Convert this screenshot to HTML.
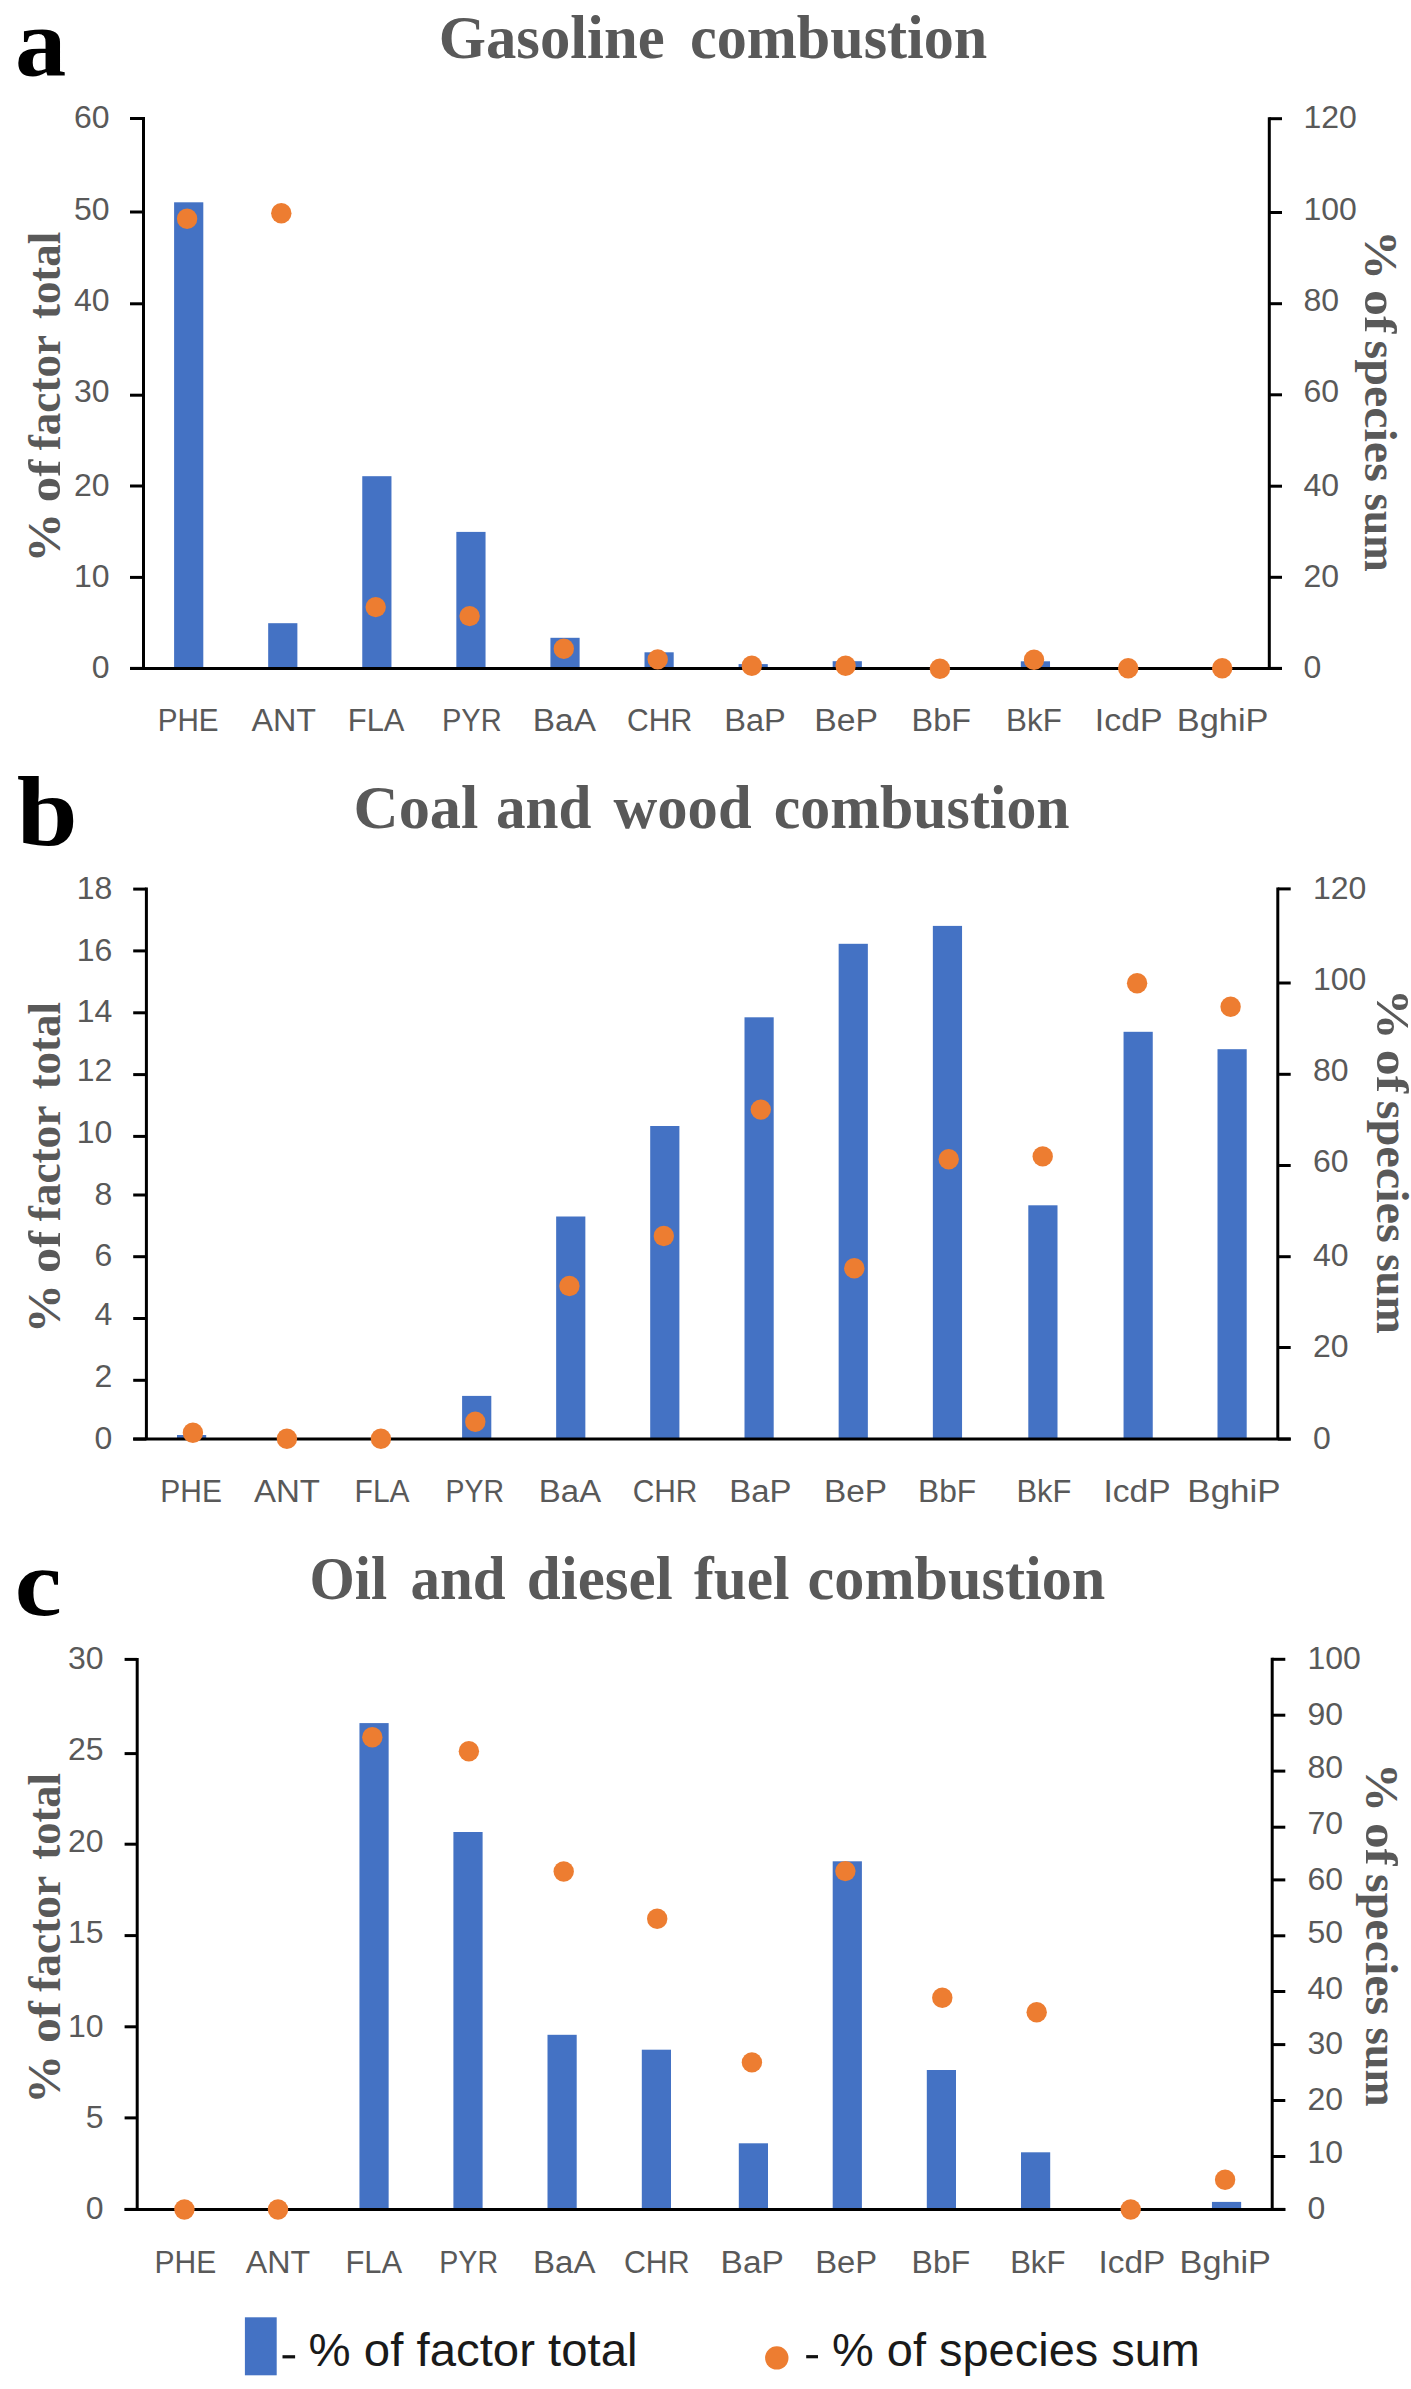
<!DOCTYPE html>
<html><head><meta charset="utf-8"><style>
html,body{margin:0;padding:0;background:#fff;}
svg{display:block;}
.let{font-family:"Liberation Serif",serif;font-weight:bold;font-size:103px;fill:#000;}
.ttl{font-family:"Liberation Serif",serif;font-weight:bold;font-size:62px;fill:#595959;}
.axt{font-family:"Liberation Serif",serif;font-weight:bold;font-size:46px;fill:#595959;}
.tk{font-family:"Liberation Sans",sans-serif;font-size:32px;fill:#595959;}
.cat{font-family:"Liberation Sans",sans-serif;font-size:31px;fill:#595959;}
.lg{font-family:"Liberation Sans",sans-serif;font-size:46px;fill:#1a1a1a;}
.ax{stroke:#000;stroke-width:3;}
</style></head><body>
<svg width="1411" height="2389" viewBox="0 0 1411 2389">
<text transform="translate(14.9,74.86) scale(0.996,0.936)" class="let">a</text>
<text x="438.8" y="57.5" class="ttl" textLength="225.8" lengthAdjust="spacingAndGlyphs">Gasoline</text>
<text x="690" y="57.5" class="ttl" textLength="297.2" lengthAdjust="spacingAndGlyphs">combustion</text>
<rect x="174.1" y="202.3" width="29.2" height="466.1" fill="#4472C4"/>
<rect x="268.18" y="623.2" width="29.2" height="45.2" fill="#4472C4"/>
<rect x="362.26" y="476.2" width="29.2" height="192.2" fill="#4472C4"/>
<rect x="456.34" y="531.9" width="29.2" height="136.5" fill="#4472C4"/>
<rect x="550.42" y="637.8" width="29.2" height="30.6" fill="#4472C4"/>
<rect x="644.5" y="652.3" width="29.2" height="16.1" fill="#4472C4"/>
<rect x="738.58" y="664.1" width="29.2" height="4.3" fill="#4472C4"/>
<rect x="832.66" y="661.2" width="29.2" height="7.2" fill="#4472C4"/>
<rect x="1020.82" y="661.3" width="29.2" height="7.1" fill="#4472C4"/>
<line x1="143.5" y1="117" x2="143.5" y2="668.4" class="ax"/>
<line x1="1269.3" y1="117.2" x2="1269.3" y2="668.4" class="ax"/>
<line x1="130" y1="668.4" x2="1282" y2="668.4" class="ax"/>
<line x1="130" y1="668.4" x2="143.5" y2="668.4" class="ax"/>
<text x="109.5" y="678.2" class="tk" text-anchor="end">0</text>
<line x1="130" y1="577.4" x2="143.5" y2="577.4" class="ax"/>
<text x="109.5" y="587" class="tk" text-anchor="end">10</text>
<line x1="130" y1="486" x2="143.5" y2="486" class="ax"/>
<text x="109.5" y="496" class="tk" text-anchor="end">20</text>
<line x1="130" y1="395.2" x2="143.5" y2="395.2" class="ax"/>
<text x="109.5" y="401.9" class="tk" text-anchor="end">30</text>
<line x1="130" y1="303.8" x2="143.5" y2="303.8" class="ax"/>
<text x="109.5" y="311" class="tk" text-anchor="end">40</text>
<line x1="130" y1="212" x2="143.5" y2="212" class="ax"/>
<text x="109.5" y="219.5" class="tk" text-anchor="end">50</text>
<line x1="130" y1="118.5" x2="143.5" y2="118.5" class="ax"/>
<text x="109.5" y="128" class="tk" text-anchor="end">60</text>
<line x1="1269.3" y1="668.4" x2="1282" y2="668.4" class="ax"/>
<text x="1303.5" y="678" class="tk">0</text>
<line x1="1269.3" y1="577.3" x2="1282" y2="577.3" class="ax"/>
<text x="1303.5" y="587" class="tk">20</text>
<line x1="1269.3" y1="486.2" x2="1282" y2="486.2" class="ax"/>
<text x="1303.5" y="495.85" class="tk">40</text>
<line x1="1269.3" y1="394.8" x2="1282" y2="394.8" class="ax"/>
<text x="1303.5" y="401.8" class="tk">60</text>
<line x1="1269.3" y1="303.7" x2="1282" y2="303.7" class="ax"/>
<text x="1303.5" y="310.5" class="tk">80</text>
<line x1="1269.3" y1="212.5" x2="1282" y2="212.5" class="ax"/>
<text x="1303.5" y="219.9" class="tk">100</text>
<line x1="1269.3" y1="118.7" x2="1282" y2="118.7" class="ax"/>
<text x="1303.5" y="128.25" class="tk">120</text>
<circle cx="187.1" cy="218.8" r="10.2" fill="#ED7D31"/>
<circle cx="281.3" cy="213.3" r="10.2" fill="#ED7D31"/>
<circle cx="375.7" cy="607.1" r="10.2" fill="#ED7D31"/>
<circle cx="469.6" cy="616.1" r="10.2" fill="#ED7D31"/>
<circle cx="563.8" cy="648.7" r="10.2" fill="#ED7D31"/>
<circle cx="657.7" cy="659.4" r="10.2" fill="#ED7D31"/>
<circle cx="751.8" cy="665.7" r="10.2" fill="#ED7D31"/>
<circle cx="845.6" cy="665.7" r="10.2" fill="#ED7D31"/>
<circle cx="939.9" cy="668.7" r="10.2" fill="#ED7D31"/>
<circle cx="1034" cy="659.8" r="10.2" fill="#ED7D31"/>
<circle cx="1128.2" cy="668.3" r="10.2" fill="#ED7D31"/>
<circle cx="1222.2" cy="668.3" r="10.2" fill="#ED7D31"/>
<text x="157.72" y="731.3" class="cat" textLength="60.88" lengthAdjust="spacingAndGlyphs">PHE</text>
<text x="251.47" y="731.3" class="cat" textLength="64.64" lengthAdjust="spacingAndGlyphs">ANT</text>
<text x="347.74" y="731.3" class="cat" textLength="56.75" lengthAdjust="spacingAndGlyphs">FLA</text>
<text x="441.95" y="731.3" class="cat" textLength="59.75" lengthAdjust="spacingAndGlyphs">PYR</text>
<text x="532.84" y="731.3" class="cat" textLength="63.11" lengthAdjust="spacingAndGlyphs">BaA</text>
<text x="627.06" y="731.3" class="cat" textLength="65.18" lengthAdjust="spacingAndGlyphs">CHR</text>
<text x="724.22" y="731.3" class="cat" textLength="61.54" lengthAdjust="spacingAndGlyphs">BaP</text>
<text x="814.29" y="731.3" class="cat" textLength="63.71" lengthAdjust="spacingAndGlyphs">BeP</text>
<text x="911.58" y="731.3" class="cat" textLength="59.33" lengthAdjust="spacingAndGlyphs">BbF</text>
<text x="1006.14" y="731.3" class="cat" textLength="55.66" lengthAdjust="spacingAndGlyphs">BkF</text>
<text x="1094.85" y="731.3" class="cat" textLength="67.7" lengthAdjust="spacingAndGlyphs">IcdP</text>
<text x="1176.81" y="731.3" class="cat" textLength="91.64" lengthAdjust="spacingAndGlyphs">BghiP</text>
<text transform="translate(59.6,562.6) rotate(-90)" class="axt" textLength="49.6" lengthAdjust="spacingAndGlyphs">%</text>
<text transform="translate(59.6,502.2) rotate(-90)" class="axt" textLength="42.4" lengthAdjust="spacingAndGlyphs">of</text>
<text transform="translate(59.6,450.2) rotate(-90)" class="axt" textLength="115.2" lengthAdjust="spacingAndGlyphs">factor</text>
<text transform="translate(59.6,319) rotate(-90)" class="axt" textLength="87.2" lengthAdjust="spacingAndGlyphs">total</text>
<text transform="translate(1365,230.2) rotate(90)" class="axt" textLength="49.6" lengthAdjust="spacingAndGlyphs">%</text>
<text transform="translate(1365,290) rotate(90)" class="axt" textLength="43.2" lengthAdjust="spacingAndGlyphs">of</text>
<text transform="translate(1365,340.6) rotate(90)" class="axt" textLength="141.2" lengthAdjust="spacingAndGlyphs">species</text>
<text transform="translate(1365,493.8) rotate(90)" class="axt" textLength="78" lengthAdjust="spacingAndGlyphs">sum</text>
<text transform="translate(16.8,845.05) scale(1.063,0.966)" class="let">b</text>
<text x="353.6" y="828.1" class="ttl" textLength="124.8" lengthAdjust="spacingAndGlyphs">Coal</text>
<text x="496" y="828.1" class="ttl" textLength="95.4" lengthAdjust="spacingAndGlyphs">and</text>
<text x="613.6" y="828.1" class="ttl" textLength="138" lengthAdjust="spacingAndGlyphs">wood</text>
<text x="773.8" y="828.1" class="ttl" textLength="295.8" lengthAdjust="spacingAndGlyphs">combustion</text>
<rect x="177" y="1435" width="29.2" height="4.1" fill="#4472C4"/>
<rect x="462.1" y="1395.9" width="29.2" height="43.2" fill="#4472C4"/>
<rect x="556.15" y="1216.5" width="29.2" height="222.6" fill="#4472C4"/>
<rect x="650.2" y="1126" width="29.2" height="313.1" fill="#4472C4"/>
<rect x="744.5" y="1017.3" width="29.2" height="421.8" fill="#4472C4"/>
<rect x="838.65" y="943.8" width="29.2" height="495.3" fill="#4472C4"/>
<rect x="932.85" y="925.9" width="29.2" height="513.2" fill="#4472C4"/>
<rect x="1028.3" y="1205.3" width="29.2" height="233.8" fill="#4472C4"/>
<rect x="1123.55" y="1031.8" width="29.2" height="407.3" fill="#4472C4"/>
<rect x="1217.5" y="1049.2" width="29.2" height="389.9" fill="#4472C4"/>
<line x1="146.4" y1="887.6" x2="146.4" y2="1439.1" class="ax"/>
<line x1="1277.8" y1="887.4" x2="1277.8" y2="1439.1" class="ax"/>
<line x1="133.2" y1="1439.1" x2="1290.7" y2="1439.1" class="ax"/>
<line x1="133.2" y1="1439.1" x2="146.4" y2="1439.1" class="ax"/>
<text x="112.3" y="1448.8" class="tk" text-anchor="end">0</text>
<line x1="133.2" y1="1380.3" x2="146.4" y2="1380.3" class="ax"/>
<text x="112.3" y="1386.7" class="tk" text-anchor="end">2</text>
<line x1="133.2" y1="1318.5" x2="146.4" y2="1318.5" class="ax"/>
<text x="112.3" y="1325" class="tk" text-anchor="end">4</text>
<line x1="133.2" y1="1256.7" x2="146.4" y2="1256.7" class="ax"/>
<text x="112.3" y="1266.4" class="tk" text-anchor="end">6</text>
<line x1="133.2" y1="1195" x2="146.4" y2="1195" class="ax"/>
<text x="112.3" y="1204.8" class="tk" text-anchor="end">8</text>
<line x1="133.2" y1="1136.4" x2="146.4" y2="1136.4" class="ax"/>
<text x="112.3" y="1142.8" class="tk" text-anchor="end">10</text>
<line x1="133.2" y1="1074.6" x2="146.4" y2="1074.6" class="ax"/>
<text x="112.3" y="1080.6" class="tk" text-anchor="end">12</text>
<line x1="133.2" y1="1012.8" x2="146.4" y2="1012.8" class="ax"/>
<text x="112.3" y="1022" class="tk" text-anchor="end">14</text>
<line x1="133.2" y1="950.9" x2="146.4" y2="950.9" class="ax"/>
<text x="112.3" y="960.5" class="tk" text-anchor="end">16</text>
<line x1="133.2" y1="889.1" x2="146.4" y2="889.1" class="ax"/>
<text x="112.3" y="898.5" class="tk" text-anchor="end">18</text>
<line x1="1277.8" y1="1439.1" x2="1290.7" y2="1439.1" class="ax"/>
<text x="1313" y="1448.7" class="tk">0</text>
<line x1="1277.8" y1="1347.5" x2="1290.7" y2="1347.5" class="ax"/>
<text x="1313" y="1357.3" class="tk">20</text>
<line x1="1277.8" y1="1256.7" x2="1290.7" y2="1256.7" class="ax"/>
<text x="1313" y="1266.2" class="tk">40</text>
<line x1="1277.8" y1="1165.5" x2="1290.7" y2="1165.5" class="ax"/>
<text x="1313" y="1171.7" class="tk">60</text>
<line x1="1277.8" y1="1074.3" x2="1290.7" y2="1074.3" class="ax"/>
<text x="1313" y="1081" class="tk">80</text>
<line x1="1277.8" y1="983" x2="1290.7" y2="983" class="ax"/>
<text x="1313" y="990.2" class="tk">100</text>
<line x1="1277.8" y1="888.9" x2="1290.7" y2="888.9" class="ax"/>
<text x="1313" y="898.6" class="tk">120</text>
<circle cx="192.9" cy="1432.8" r="10.2" fill="#ED7D31"/>
<circle cx="286.9" cy="1438.7" r="10.2" fill="#ED7D31"/>
<circle cx="380.9" cy="1438.7" r="10.2" fill="#ED7D31"/>
<circle cx="475.3" cy="1421.7" r="10.2" fill="#ED7D31"/>
<circle cx="569.4" cy="1286" r="10.2" fill="#ED7D31"/>
<circle cx="663.8" cy="1236" r="10.2" fill="#ED7D31"/>
<circle cx="760.8" cy="1109.6" r="10.2" fill="#ED7D31"/>
<circle cx="854.3" cy="1268.2" r="10.2" fill="#ED7D31"/>
<circle cx="948.7" cy="1159.3" r="10.2" fill="#ED7D31"/>
<circle cx="1042.7" cy="1156.4" r="10.2" fill="#ED7D31"/>
<circle cx="1137.1" cy="983.3" r="10.2" fill="#ED7D31"/>
<circle cx="1230.6" cy="1006.7" r="10.2" fill="#ED7D31"/>
<text x="160.3" y="1501.9" class="cat" textLength="61.63" lengthAdjust="spacingAndGlyphs">PHE</text>
<text x="253.97" y="1501.9" class="cat" textLength="66.07" lengthAdjust="spacingAndGlyphs">ANT</text>
<text x="354.62" y="1501.9" class="cat" textLength="54.96" lengthAdjust="spacingAndGlyphs">FLA</text>
<text x="445.61" y="1501.9" class="cat" textLength="58.46" lengthAdjust="spacingAndGlyphs">PYR</text>
<text x="538.87" y="1501.9" class="cat" textLength="62.27" lengthAdjust="spacingAndGlyphs">BaA</text>
<text x="632.77" y="1501.9" class="cat" textLength="64.65" lengthAdjust="spacingAndGlyphs">CHR</text>
<text x="729.28" y="1501.9" class="cat" textLength="62.19" lengthAdjust="spacingAndGlyphs">BaP</text>
<text x="824.02" y="1501.9" class="cat" textLength="63.06" lengthAdjust="spacingAndGlyphs">BeP</text>
<text x="918.04" y="1501.9" class="cat" textLength="58.15" lengthAdjust="spacingAndGlyphs">BbF</text>
<text x="1016.47" y="1501.9" class="cat" textLength="54.91" lengthAdjust="spacingAndGlyphs">BkF</text>
<text x="1103.48" y="1501.9" class="cat" textLength="67.06" lengthAdjust="spacingAndGlyphs">IcdP</text>
<text x="1187.36" y="1501.9" class="cat" textLength="93.24" lengthAdjust="spacingAndGlyphs">BghiP</text>
<text transform="translate(59.6,1333.2) rotate(-90)" class="axt" textLength="49.15" lengthAdjust="spacingAndGlyphs">%</text>
<text transform="translate(59.6,1273.03) rotate(-90)" class="axt" textLength="41.97" lengthAdjust="spacingAndGlyphs">of</text>
<text transform="translate(59.6,1221.35) rotate(-90)" class="axt" textLength="115.77" lengthAdjust="spacingAndGlyphs">factor</text>
<text transform="translate(59.6,1089.37) rotate(-90)" class="axt" textLength="87.37" lengthAdjust="spacingAndGlyphs">total</text>
<text transform="translate(1377,988.8) rotate(90)" class="axt" textLength="50.66" lengthAdjust="spacingAndGlyphs">%</text>
<text transform="translate(1377,1049.75) rotate(90)" class="axt" textLength="43.13" lengthAdjust="spacingAndGlyphs">of</text>
<text transform="translate(1377,1100.69) rotate(90)" class="axt" textLength="142.1" lengthAdjust="spacingAndGlyphs">species</text>
<text transform="translate(1377,1254.2) rotate(90)" class="axt" textLength="79.4" lengthAdjust="spacingAndGlyphs">sum</text>
<text transform="translate(14.8,1615.1) scale(1.028,0.934)" class="let">c</text>
<text x="309.6" y="1598.9" class="ttl" textLength="77.6" lengthAdjust="spacingAndGlyphs">Oil</text>
<text x="410.4" y="1598.9" class="ttl" textLength="95.2" lengthAdjust="spacingAndGlyphs">and</text>
<text x="526.8" y="1598.9" class="ttl" textLength="145.8" lengthAdjust="spacingAndGlyphs">diesel</text>
<text x="694" y="1598.9" class="ttl" textLength="95.4" lengthAdjust="spacingAndGlyphs">fuel</text>
<text x="807.6" y="1598.9" class="ttl" textLength="297.6" lengthAdjust="spacingAndGlyphs">combustion</text>
<rect x="359.45" y="1723.1" width="29.2" height="486.3" fill="#4472C4"/>
<rect x="453.4" y="1832" width="29.2" height="377.4" fill="#4472C4"/>
<rect x="547.5" y="2034.8" width="29.2" height="174.6" fill="#4472C4"/>
<rect x="641.8" y="2049.7" width="29.2" height="159.7" fill="#4472C4"/>
<rect x="738.8" y="2143.3" width="29.2" height="66.1" fill="#4472C4"/>
<rect x="832.7" y="1861.3" width="29.2" height="348.1" fill="#4472C4"/>
<rect x="926.8" y="2070" width="29.2" height="139.4" fill="#4472C4"/>
<rect x="1021" y="2152.3" width="29.2" height="57.1" fill="#4472C4"/>
<rect x="1211.95" y="2201.9" width="29.2" height="7.5" fill="#4472C4"/>
<line x1="137.2" y1="1657.9" x2="137.2" y2="2209.4" class="ax"/>
<line x1="1272.2" y1="1657.8" x2="1272.2" y2="2209.4" class="ax"/>
<line x1="124.6" y1="2209.4" x2="1285.3" y2="2209.4" class="ax"/>
<line x1="124.6" y1="2209.4" x2="137.2" y2="2209.4" class="ax"/>
<text x="103.5" y="2218.8" class="tk" text-anchor="end">0</text>
<line x1="124.6" y1="2117.9" x2="137.2" y2="2117.9" class="ax"/>
<text x="103.5" y="2128" class="tk" text-anchor="end">5</text>
<line x1="124.6" y1="2026.8" x2="137.2" y2="2026.8" class="ax"/>
<text x="103.5" y="2036.6" class="tk" text-anchor="end">10</text>
<line x1="124.6" y1="1935.6" x2="137.2" y2="1935.6" class="ax"/>
<text x="103.5" y="1942.6" class="tk" text-anchor="end">15</text>
<line x1="124.6" y1="1844.2" x2="137.2" y2="1844.2" class="ax"/>
<text x="103.5" y="1851.5" class="tk" text-anchor="end">20</text>
<line x1="124.6" y1="1753.6" x2="137.2" y2="1753.6" class="ax"/>
<text x="103.5" y="1760.4" class="tk" text-anchor="end">25</text>
<line x1="124.6" y1="1659.4" x2="137.2" y2="1659.4" class="ax"/>
<text x="103.5" y="1668.9" class="tk" text-anchor="end">30</text>
<line x1="1272.2" y1="2209.4" x2="1285.3" y2="2209.4" class="ax"/>
<text x="1307.5" y="2219" class="tk">0</text>
<line x1="1272.2" y1="2156.5" x2="1285.3" y2="2156.5" class="ax"/>
<text x="1307.5" y="2163.2" class="tk">10</text>
<line x1="1272.2" y1="2100.5" x2="1285.3" y2="2100.5" class="ax"/>
<text x="1307.5" y="2110" class="tk">20</text>
<line x1="1272.2" y1="2044.6" x2="1285.3" y2="2044.6" class="ax"/>
<text x="1307.5" y="2054.2" class="tk">30</text>
<line x1="1272.2" y1="1991.5" x2="1285.3" y2="1991.5" class="ax"/>
<text x="1307.5" y="1998.5" class="tk">40</text>
<line x1="1272.2" y1="1935.8" x2="1285.3" y2="1935.8" class="ax"/>
<text x="1307.5" y="1942.6" class="tk">50</text>
<line x1="1272.2" y1="1879.9" x2="1285.3" y2="1879.9" class="ax"/>
<text x="1307.5" y="1890" class="tk">60</text>
<line x1="1272.2" y1="1827.2" x2="1285.3" y2="1827.2" class="ax"/>
<text x="1307.5" y="1834.1" class="tk">70</text>
<line x1="1272.2" y1="1771.1" x2="1285.3" y2="1771.1" class="ax"/>
<text x="1307.5" y="1778" class="tk">80</text>
<line x1="1272.2" y1="1715.2" x2="1285.3" y2="1715.2" class="ax"/>
<text x="1307.5" y="1725" class="tk">90</text>
<line x1="1272.2" y1="1659.3" x2="1285.3" y2="1659.3" class="ax"/>
<text x="1307.5" y="1669" class="tk">100</text>
<circle cx="184.4" cy="2209.5" r="10.2" fill="#ED7D31"/>
<circle cx="278" cy="2209.5" r="10.2" fill="#ED7D31"/>
<circle cx="372.3" cy="1737.2" r="10.2" fill="#ED7D31"/>
<circle cx="468.9" cy="1751.2" r="10.2" fill="#ED7D31"/>
<circle cx="563.7" cy="1871.5" r="10.2" fill="#ED7D31"/>
<circle cx="657.2" cy="1918.7" r="10.2" fill="#ED7D31"/>
<circle cx="751.9" cy="2062.4" r="10.2" fill="#ED7D31"/>
<circle cx="845.4" cy="1871.1" r="10.2" fill="#ED7D31"/>
<circle cx="942.3" cy="1997.8" r="10.2" fill="#ED7D31"/>
<circle cx="1036.7" cy="2012.2" r="10.2" fill="#ED7D31"/>
<circle cx="1130.7" cy="2209.5" r="10.2" fill="#ED7D31"/>
<circle cx="1225.1" cy="2179.8" r="10.2" fill="#ED7D31"/>
<text x="154.59" y="2272.5" class="cat" textLength="61.73" lengthAdjust="spacingAndGlyphs">PHE</text>
<text x="245.77" y="2272.5" class="cat" textLength="64.44" lengthAdjust="spacingAndGlyphs">ANT</text>
<text x="345.44" y="2272.5" class="cat" textLength="56.75" lengthAdjust="spacingAndGlyphs">FLA</text>
<text x="439.29" y="2272.5" class="cat" textLength="58.78" lengthAdjust="spacingAndGlyphs">PYR</text>
<text x="533.07" y="2272.5" class="cat" textLength="62.38" lengthAdjust="spacingAndGlyphs">BaA</text>
<text x="623.95" y="2272.5" class="cat" textLength="65.7" lengthAdjust="spacingAndGlyphs">CHR</text>
<text x="720.63" y="2272.5" class="cat" textLength="63.17" lengthAdjust="spacingAndGlyphs">BaP</text>
<text x="815.18" y="2272.5" class="cat" textLength="61.97" lengthAdjust="spacingAndGlyphs">BeP</text>
<text x="911.62" y="2272.5" class="cat" textLength="58.58" lengthAdjust="spacingAndGlyphs">BbF</text>
<text x="1010.15" y="2272.5" class="cat" textLength="55.23" lengthAdjust="spacingAndGlyphs">BkF</text>
<text x="1098.49" y="2272.5" class="cat" textLength="66.74" lengthAdjust="spacingAndGlyphs">IcdP</text>
<text x="1179.62" y="2272.5" class="cat" textLength="91.33" lengthAdjust="spacingAndGlyphs">BghiP</text>
<text transform="translate(60,2103.8) rotate(-90)" class="axt" textLength="48.85" lengthAdjust="spacingAndGlyphs">%</text>
<text transform="translate(60,2043.05) rotate(-90)" class="axt" textLength="41.66" lengthAdjust="spacingAndGlyphs">of</text>
<text transform="translate(60,1991.74) rotate(-90)" class="axt" textLength="115.91" lengthAdjust="spacingAndGlyphs">factor</text>
<text transform="translate(60,1859.73) rotate(-90)" class="axt" textLength="86.73" lengthAdjust="spacingAndGlyphs">total</text>
<text transform="translate(1366,1763) rotate(90)" class="axt" textLength="48.87" lengthAdjust="spacingAndGlyphs">%</text>
<text transform="translate(1366,1822.88) rotate(90)" class="axt" textLength="42.72" lengthAdjust="spacingAndGlyphs">of</text>
<text transform="translate(1366,1873.99) rotate(90)" class="axt" textLength="141.24" lengthAdjust="spacingAndGlyphs">species</text>
<text transform="translate(1366,2027.57) rotate(90)" class="axt" textLength="79.03" lengthAdjust="spacingAndGlyphs">sum</text>
<rect x="244.9" y="2317.3" width="31.8" height="58" fill="#4472C4"/>
<rect x="282.5" y="2355.2" width="12.6" height="3.2" fill="#111"/>
<text x="308.6" y="2366.4" class="lg" textLength="329" lengthAdjust="spacingAndGlyphs">% of factor total</text>
<circle cx="776.8" cy="2357.9" r="11.7" fill="#ED7D31"/>
<rect x="806.2" y="2355.1" width="11.8" height="3.2" fill="#111"/>
<text x="832" y="2365.6" class="lg" textLength="368" lengthAdjust="spacingAndGlyphs">% of species sum</text>
</svg>
</body></html>
